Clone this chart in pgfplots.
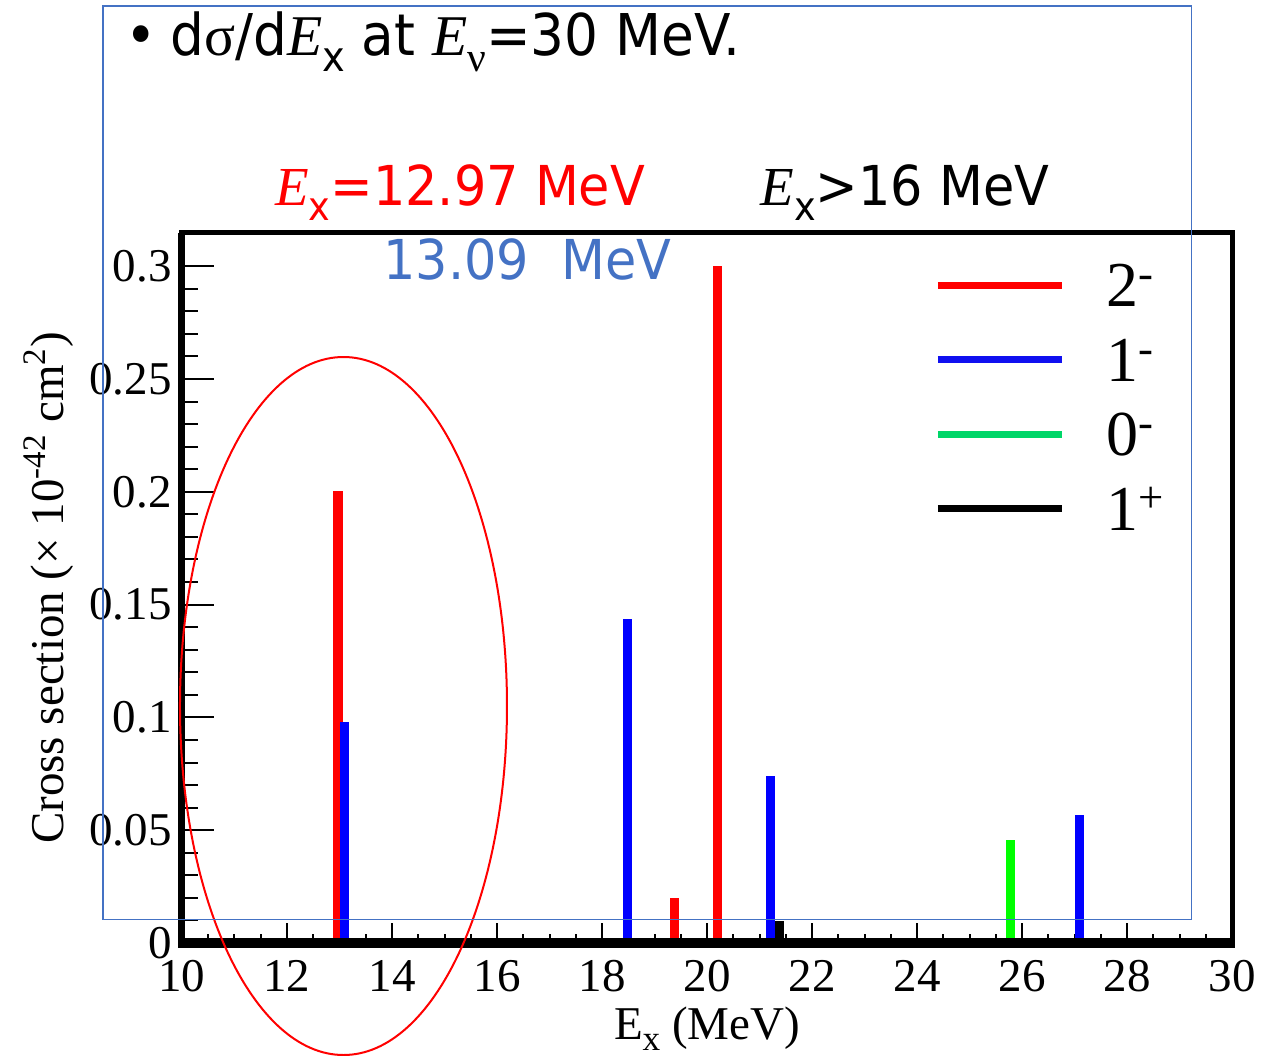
\documentclass[border=0pt]{standalone}
\usepackage{pgfplots}
\pgfplotsset{compat=1.18}
\usepackage{fontspec}
\usepackage{graphicx}
\setmainfont{Liberation Serif}
\newfontfamily\slide{DejaVu Sans}[FakeStretch=0.925]
\newfontfamily\cmb{Liberation Serif}
\definecolor{slideblue}{RGB}{68,114,196}
\definecolor{legblue}{RGB}{16,16,240}
\definecolor{leggreen}{RGB}{0,214,104}
\newcommand\sub[1]{\raisebox{-0.28em}{\scalebox{0.72}{#1}}}
\newcommand\iE{{\cmb\itshape E}}
\begin{document}
\begin{tikzpicture}
\begin{axis}[
  scale only axis, width=525pt, height=355pt,
  xmin=10, xmax=30, ymin=0, ymax=0.314716,
  clip=false,
  axis line style={line width=2.5pt},
  tick pos=left,
  xtick={10,12,14,16,18,20,22,24,26,28,30},
  xticklabels={10,12,14,16,18,20,22,24,26,28,30},
  minor x tick num=3,
  ytick={0,0.05,0.1,0.15,0.2,0.25,0.3},
  yticklabels={0,0.05,0.1,0.15,0.2,0.25,0.3},
  minor y tick num=4,
  major tick length=10pt, minor tick length=4.5pt,
  every y tick/.append style={/pgfplots/major tick length=16pt, /pgfplots/minor tick length=8pt},
  tick style={line width=1pt, black},
  /pgf/number format/assume math mode=true,
  ticklabel style={font=\fontsize{23.5}{23.5}\selectfont},
  xticklabel style={anchor=north, inner sep=0pt, yshift=-8.5pt},
  yticklabel style={anchor=east, inner sep=0pt, xshift=-5pt},
  xlabel={E\raisebox{-0.25em}{\scalebox{0.75}{x}} (MeV)},
  ylabel={Cross section (\texttimes\ 10\textsuperscript{-42} cm\textsuperscript{2})},
  every axis x label/.style={at={(axis description cs:0.5,0)}, anchor=base, yshift=-48pt, font=\fontsize{23.5}{23.5}\selectfont},
  every axis y label/.style={at={(axis description cs:-0.1124,0.5)}, rotate=90, anchor=base, font=\fontsize{23.5}{23.5}\selectfont},
  legend image code/.code={\draw[#1, line width=3.5pt] (0pt,10.75pt) -- (62pt,10.75pt);},
  legend style={draw=none, fill=none, inner sep=0pt, outer sep=0pt,
    at={(axis cs:24.333,0.30142)}, anchor=north west,
    column sep=20.75pt, row sep=0pt,
    cells={anchor=base west},
    nodes={inner sep=0pt, text height=22pt, text depth=15.25pt, font=\fontsize{32}{32}\selectfont}},
]
% bars
\addplot[ycomb, no markers, red, line width=4.65pt, forget plot] coordinates {(12.97,0.2005) (19.385,0.0198) (20.2,0.300)};
\addplot[ycomb, no markers, blue, line width=4.65pt, forget plot] coordinates {(13.09,0.0981) (18.49,0.1436) (21.21,0.0740) (27.09,0.0567)};
\addplot[ycomb, no markers, green, line width=4.65pt, forget plot] coordinates {(25.785,0.0457)};
\addplot[ycomb, no markers, black, line width=4.65pt, forget plot] coordinates {(21.38,0.0098)};
% legend
\addlegendimage{red}
\addlegendentry{2\textsuperscript{-}}
\addlegendimage{legblue}
\addlegendentry{1\textsuperscript{-}}
\addlegendimage{leggreen}
\addlegendentry{0\textsuperscript{-}}
\addlegendimage{black}
\addlegendentry{1\textsuperscript{+}}
% thicker left and bottom frame
\draw[line width=3.5pt] (rel axis cs:0,0) -- (rel axis cs:0,1);
\draw[line width=5pt] ([xshift=-1.75pt]rel axis cs:0,0) -- ([xshift=1.25pt]rel axis cs:1,0);
% slide annotations
\node[anchor=base west, inner sep=0pt, font=\slide\fontsize{28.8}{28.8}\selectfont] at (axis cs:8.914,0.3936) {•};
\node[anchor=base west, inner sep=0pt, font=\slide\fontsize{28.8}{28.8}\selectfont] at (axis cs:9.771,0.3936) {d{\cmb σ}/d\iE\sub{x} at \iE\sub{{\cmb ν}}=30 MeV.};
\node[anchor=base west, inner sep=0pt, text=red, font=\slide\fontsize{27.5}{27.5}\selectfont] at (axis cs:11.771,0.3271) {\iE\sub{x}=12.97 MeV};
\node[anchor=base west, inner sep=0pt, text=black, font=\slide\fontsize{27.5}{27.5}\selectfont] at (axis cs:21.010,0.3271) {\iE\sub{x}>16 MeV};
\node[anchor=base west, inner sep=0pt, text=slideblue, font=\slide\fontsize{27.5}{27.5}\selectfont] at (axis cs:13.829,0.2939) {13.09\ \ MeV};
\draw[red, line width=1pt] (axis cs:13.076,0.10505) ellipse [x radius=81.75pt, y radius=174.5pt];
\draw[slideblue, line width=0.75pt] (axis cs:8.4952,0.010417) rectangle (axis cs:29.232,0.41534);
\coordinate (bbSW) at (axis cs:6.53333,-0.049645);
\coordinate (bbNE) at (axis cs:30.8,0.417996);
\end{axis}
\pgfresetboundingbox
\path[use as bounding box] (bbSW) rectangle (bbNE);
\end{tikzpicture}
\end{document}
